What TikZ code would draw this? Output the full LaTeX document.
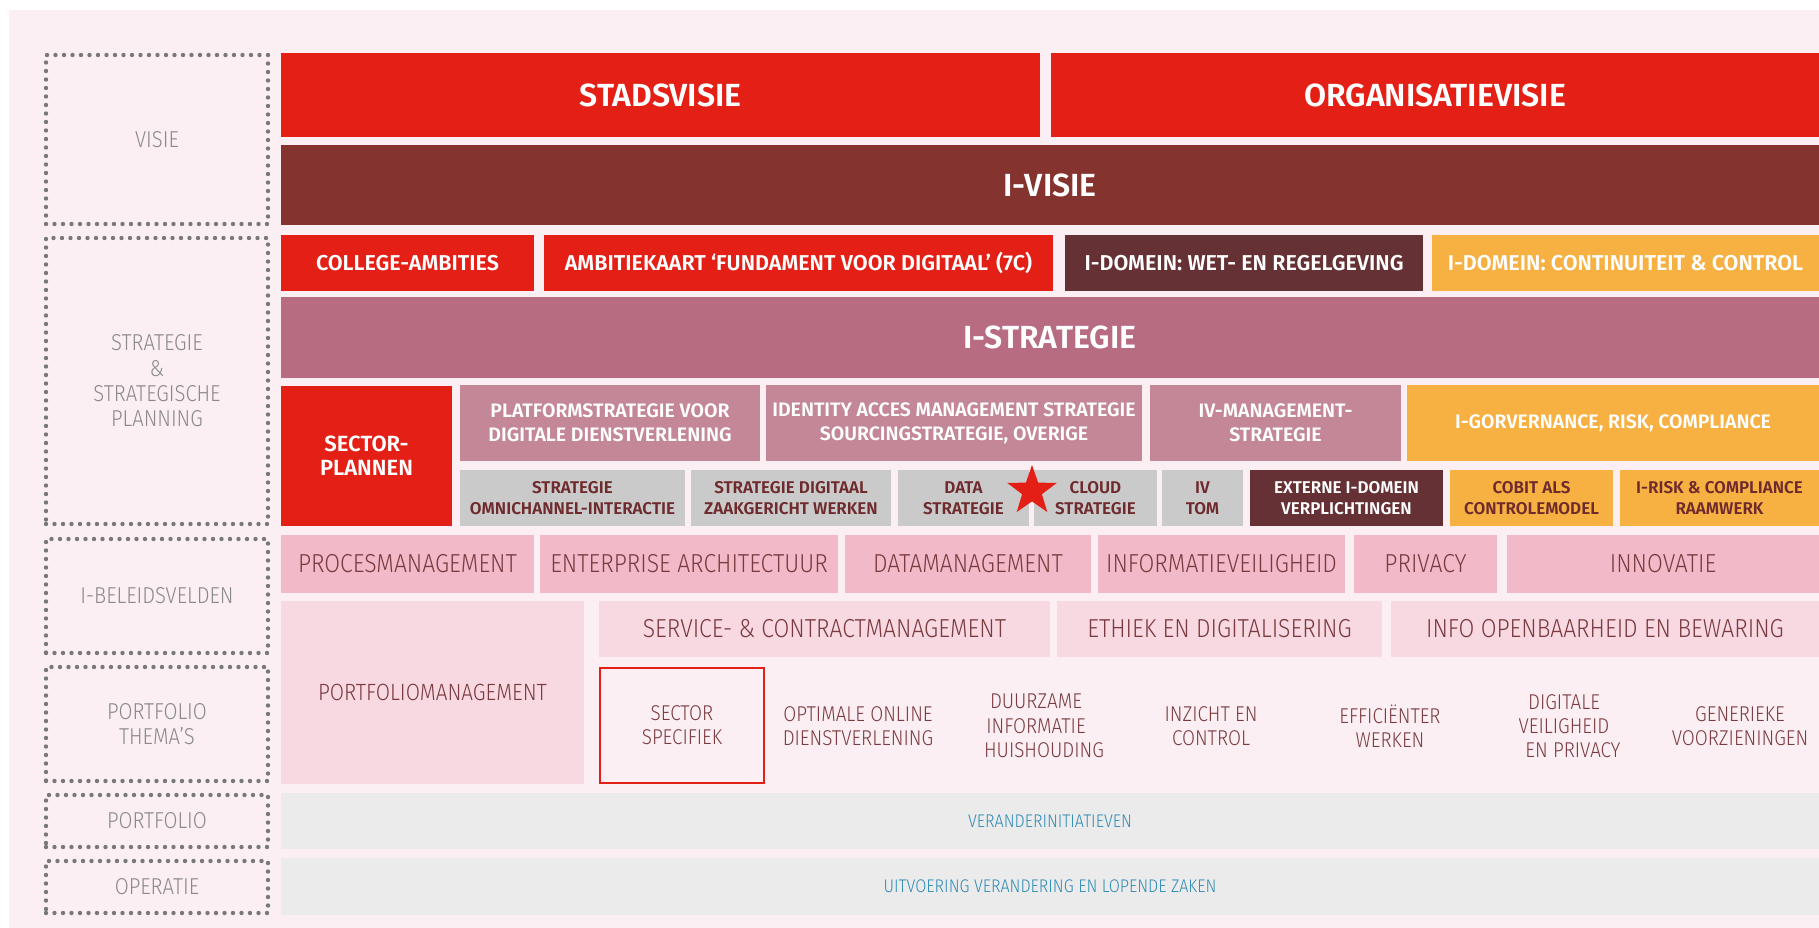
\documentclass[tikz,border=0pt]{standalone}
\usepackage{fontspec}
\setmainfont{Fira Sans}[BoldFont={Fira Sans SemiBold}]
\newfontfamily\lightf{Fira Sans Light}[FakeStretch=0.88]
\usetikzlibrary{shapes.geometric}
\definecolor{bgpink}{HTML}{FCEFF3}
\definecolor{myred}{HTML}{E31F16}
\definecolor{ivisie}{HTML}{85332F}
\definecolor{darkmaroon}{HTML}{653134}
\definecolor{myorange}{HTML}{F7B042}
\definecolor{istrat}{HTML}{B76C82}
\definecolor{mauve}{HTML}{C38797}
\definecolor{mygray}{HTML}{CACACA}
\definecolor{graytext}{HTML}{6E2A2C}
\definecolor{mypink}{HTML}{F2BAC8}
\definecolor{lightpink}{HTML}{F8D9E2}
\definecolor{lightgray}{HTML}{EBEBEB}
\definecolor{myblue}{HTML}{2E8BB5}
\definecolor{beleidtext}{HTML}{7A3A3F}
\definecolor{labelgray}{HTML}{8A8A8A}
\definecolor{dotgray}{HTML}{787878}
\newcommand\fsz[2]{\fontsize{#1}{#2}\selectfont}
\newcommand\mybox[7]{\node[#2, minimum width={(#5-#3)*1pt}, minimum height={(#6-#4)*1pt}] (#1) at ({(#3+#5)/2},{(#4+#6)/2}) {#7};}
\begin{document}
\begin{tikzpicture}[x=1pt,y=-1pt,
  base/.style={inner sep=0pt, outer sep=0pt, align=center, text=white},
  big/.style={base, font=\fsz{32}{36}\bfseries},
  mid/.style={base, font=\fsz{21.5}{25}\bfseries},
  strat/.style={base, font=\fsz{19.5}{24.3}\bfseries},
  small/.style={base, font=\fsz{17}{20.7}\bfseries, text=graytext},
  beleid/.style={base, font=\fsz{26}{28}\lightf, text=beleidtext},
  theme/.style={base, font=\fsz{21.4}{24.3}\lightf, text=beleidtext},
  bluet/.style={base, font=\fsz{18.3}{21}\lightf, text=myblue},
  lbl/.style={base, draw=dotgray, line width=4.4pt, dash pattern=on 0pt off 8.5pt, line cap=round, font=\fsz{23}{25.3}\lightf, text=labelgray}
]
\useasboundingbox (0,0) rectangle (1819,928);
\fill[white] (0,0) rectangle (1819,928);
\fill[bgpink] (9,10) rectangle (1819,928);

% left labels
\mybox{lvisie}{lbl}{46}{55}{268}{224}{VISIE}
\mybox{lstrat}{lbl}{46}{238}{268}{524}{STRATEGIE\\\&\\STRATEGISCHE\\PLANNING}
\mybox{lbeleid}{lbl}{46}{539}{268}{653}{I-BELEIDSVELDEN}
\mybox{ltheme}{lbl}{46}{667}{268}{781}{PORTFOLIO\\THEMA’S}
\mybox{lport}{lbl}{46}{795}{268}{847}{PORTFOLIO}
\mybox{lop}{lbl}{46}{861}{268}{913}{OPERATIE}

% visie
\mybox{stad}{big, fill=myred}{281}{53}{1040}{137}{\raisebox{-3pt}{STADSVISIE}}
\mybox{org}{big, fill=myred}{1051}{53}{1819}{137}{\raisebox{-3pt}{ORGANISATIEVISIE}}
\mybox{ivisie}{big, fill=ivisie}{281}{145}{1819}{225}{\raisebox{-3pt}{I-VISIE}}

% college row
\mybox{college}{mid, fill=myred}{281}{235}{534}{291}{COLLEGE-AMBITIES}
\mybox{ambitie}{mid, fill=myred}{544}{235}{1053}{291}{AMBITIEKAART ‘FUNDAMENT VOOR DIGITAAL’ (7C)}
\mybox{wet}{mid, fill=darkmaroon}{1065}{235}{1423}{291}{I-DOMEIN: WET- EN REGELGEVING}
\mybox{cont}{mid, fill=myorange}{1432}{235}{1819}{291}{I-DOMEIN: CONTINUITEIT \& CONTROL}

% i-strategie
\mybox{istrat}{big, fill=istrat}{281}{297}{1819}{378}{I-STRATEGIE}

% strategy row 1
\mybox{sector}{mid, font=\fsz{22}{24}\bfseries, fill=myred}{281}{386}{452}{526}{SECTOR-\\PLANNEN}
\mybox{platform}{strat, fill=mauve}{460}{385}{760}{461}{PLATFORMSTRATEGIE VOOR\\DIGITALE DIENSTVERLENING}
\mybox{identity}{strat, fill=mauve}{766}{385}{1142}{461}{IDENTITY ACCES MANAGEMENT STRATEGIE\\SOURCINGSTRATEGIE, OVERIGE}
\mybox{ivman}{strat, fill=mauve}{1150}{385}{1401}{461}{IV-MANAGEMENT-\\STRATEGIE}
\mybox{igov}{strat, fill=myorange}{1407}{385}{1819}{461}{I-GORVERNANCE, RISK, COMPLIANCE}

% strategy row 2
\mybox{omni}{small, fill=mygray}{460}{470}{685}{526}{STRATEGIE\\OMNICHANNEL-INTERACTIE}
\mybox{digitaal}{small, fill=mygray}{691}{470}{891}{526}{STRATEGIE DIGITAAL\\ZAAKGERICHT WERKEN}
\mybox{data}{small, fill=mygray}{898}{470}{1029}{526}{DATA\\STRATEGIE}
\mybox{cloud}{small, fill=mygray}{1034}{470}{1157}{526}{CLOUD\\STRATEGIE}
\mybox{ivtom}{small, fill=mygray}{1162}{470}{1243}{526}{IV\\TOM}
\mybox{externe}{small, text=white, fill=darkmaroon}{1250}{470}{1443}{526}{EXTERNE I-DOMEIN\\VERPLICHTINGEN}
\mybox{cobit}{small, fill=myorange}{1450}{470}{1613}{526}{COBIT ALS\\CONTROLEMODEL}
\mybox{irisk}{small, fill=myorange}{1620}{470}{1819}{526}{I-RISK \& COMPLIANCE\\RAAMWERK}
\node[star, star points=5, star point ratio=2.5, fill=myred, minimum size=52pt, inner sep=0pt] (star) at (1032,491) {};

% beleidsvelden
\mybox{proces}{beleid, fill=mypink}{281}{535}{534}{593}{PROCESMANAGEMENT}
\mybox{enterprise}{beleid, fill=mypink}{540}{535}{838}{593}{ENTERPRISE ARCHITECTUUR}
\mybox{datamgmt}{beleid, fill=mypink}{845}{535}{1091}{593}{DATAMANAGEMENT}
\mybox{infov}{beleid, fill=mypink}{1098}{535}{1345}{593}{INFORMATIEVEILIGHEID}
\mybox{privacy}{beleid, fill=mypink}{1354}{535}{1497}{593}{PRIVACY}
\mybox{innovatie}{beleid, fill=mypink}{1507}{535}{1819}{593}{INNOVATIE}

\mybox{portmgmt}{beleid, font=\fsz{23.5}{26}\lightf, fill=lightpink}{281}{601}{584}{784}{PORTFOLIOMANAGEMENT}
\mybox{service}{beleid, fill=lightpink}{599}{601}{1050}{657}{SERVICE- \& CONTRACTMANAGEMENT}
\mybox{ethiek}{beleid, fill=lightpink}{1057}{601}{1382}{657}{ETHIEK EN DIGITALISERING}
\mybox{info}{beleid, fill=lightpink}{1391}{601}{1819}{657}{INFO OPENBAARHEID EN BEWARING}

% portfolio themes
\mybox{sectorspec}{theme, draw=myred, line width=2pt}{600}{668}{764}{783}{SECTOR\\SPECIFIEK}
\node[theme] (optimale) at (858,726) {OPTIMALE ONLINE\\DIENSTVERLENING};
\node[theme] (duurzame) at (1036,726) {DUURZAME\\INFORMATIE\\\hspace{16pt}HUISHOUDING};
\node[theme] (inzicht) at (1211,726) {INZICHT EN\\CONTROL};
\node[theme] (efficient) at (1390,726) {EFFICIËNTER\\WERKEN};
\node[theme] (digitale) at (1564,726) {DIGITALE\\VEILIGHEID\\\hspace{18pt}EN PRIVACY};
\node[theme] (generiek) at (1740,726) {GENERIEKE\\VOORZIENINGEN};

% portfolio / operatie
\mybox{verander}{bluet, fill=lightgray}{281}{793}{1819}{849}{VERANDERINITIATIEVEN}
\mybox{uitvoer}{bluet, fill=lightgray}{281}{858}{1819}{915}{UITVOERING VERANDERING EN LOPENDE ZAKEN}
\end{tikzpicture}
\end{document}
